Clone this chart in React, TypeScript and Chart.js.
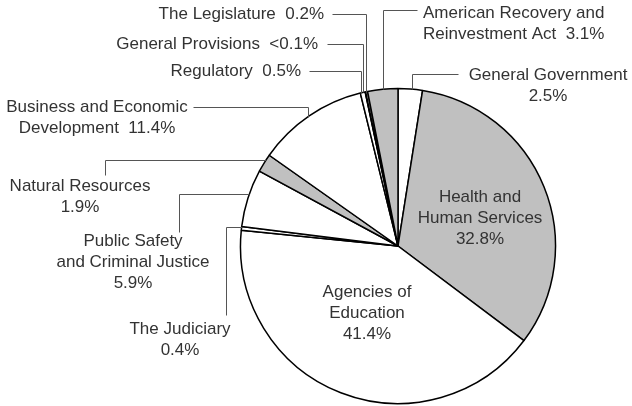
import React, { useEffect, useRef } from "react";
import { Chart, registerables } from "chart.js";

Chart.register(...registerables);

const categories = [
  "General Government",
  "Health and Human Services",
  "Agencies of Education",
  "The Judiciary",
  "Public Safety and Criminal Justice",
  "Natural Resources",
  "Business and Economic Development",
  "Regulatory",
  "General Provisions",
  "The Legislature",
  "American Recovery and Reinvestment Act",
];
const shares = [2.5, 32.8, 41.4, 0.4, 5.9, 1.9, 11.4, 0.5, 0.05, 0.2, 3.1];
const valueLabels = ["2.5%", "32.8%", "41.4%", "0.4%", "5.9%", "1.9%", "11.4%", "0.5%", "<0.1%", "0.2%", "3.1%"];
const labelLines: string[][] = [
  ["General Government", valueLabels[0]],
  ["Health and", "Human Services", valueLabels[1]],
  ["Agencies of", "Education", valueLabels[2]],
  ["The Judiciary", valueLabels[3]],
  ["Public Safety", "and Criminal Justice", valueLabels[4]],
  ["Natural Resources", valueLabels[5]],
  ["Business and Economic", "Development  " + valueLabels[6]],
  ["Regulatory  " + valueLabels[7]],
  ["General Provisions  " + valueLabels[8]],
  ["The Legislature  " + valueLabels[9]],
  ["American Recovery and", "Reinvestment Act  " + valueLabels[10]],
];
const GRAY = "#c0c0c0";
const WHITE = "#ffffff";
const fills = [WHITE, GRAY, WHITE, WHITE, WHITE, GRAY, WHITE, WHITE, GRAY, GRAY, GRAY];

type LabelSpec = {
  x: number;
  y: number;
  align: CanvasTextAlign;
  leader?: number[][];
  end?: "v" | "h";
};
const labelSpecs: LabelSpec[] = [
  { x: 548, y: 75, align: "center", leader: [[458, 74], [412, 74]], end: "v" },
  { x: 480, y: 197, align: "center" },
  { x: 367, y: 292, align: "center" },
  { x: 180, y: 329, align: "center", leader: [[226, 315], [226, 227]], end: "h" },
  { x: 133, y: 241, align: "center", leader: [[179, 232], [179, 194]], end: "h" },
  { x: 80, y: 186, align: "center", leader: [[105, 175], [105, 160]], end: "h" },
  { x: 97, y: 107, align: "center", leader: [[193, 107], [308, 107]], end: "v" },
  { x: 301, y: 71, align: "right", leader: [[309, 71], [361, 71]], end: "v" },
  { x: 318, y: 44, align: "right", leader: [[327, 44], [363, 44]], end: "v" },
  { x: 324, y: 14, align: "right", leader: [[332, 14], [366, 14]], end: "v" },
  { x: 423, y: 13, align: "left", leader: [[417, 10], [383, 10]], end: "v" },
];

const LINE_H = 21;
const FONT = '17px "Liberation Sans", Arial, sans-serif';

const labelPlugin = {
  id: "pieLabels",
  afterDatasetsDraw(chart: any) {
    const ctx: CanvasRenderingContext2D = chart.ctx;
    const arc = chart.getDatasetMeta(0).data[0] as any;
    if (!arc) return;
    const cx = arc.x;
    const cy = arc.y;
    const r = arc.outerRadius;
    ctx.save();
    // leader lines
    ctx.strokeStyle = "#555";
    ctx.lineWidth = 1;
    labelSpecs.forEach((s) => {
      if (!s.leader) return;
      const pts = s.leader.map((p) => [p[0], p[1]]);
      const last = pts[pts.length - 1];
      let endPt: number[];
      if (s.end === "v") {
        const dx = last[0] - cx;
        endPt = [last[0], cy - Math.sqrt(Math.max(r * r - dx * dx, 0))];
      } else {
        const dy = last[1] - cy;
        endPt = [cx - Math.sqrt(Math.max(r * r - dy * dy, 0)), last[1]];
      }
      pts.push(endPt);
      ctx.beginPath();
      pts.forEach((p, i) => {
        const px = Math.round(p[0]) + 0.5;
        const py = Math.round(p[1]) + 0.5;
        if (i === 0) ctx.moveTo(px, py);
        else ctx.lineTo(px, py);
      });
      ctx.stroke();
    });
    // texts
    ctx.font = FONT;
    ctx.fillStyle = "#333";
    ctx.textBaseline = "middle";
    labelSpecs.forEach((s, i) => {
      ctx.textAlign = s.align;
      labelLines[i].forEach((line, j) => {
        ctx.fillText(line, s.x, s.y + j * LINE_H);
      });
    });
    ctx.restore();
  },
};

export default function App() {
  const ref = useRef<HTMLCanvasElement | null>(null);
  useEffect(() => {
    if (!ref.current) return;
    const chart = new Chart(ref.current, {
      type: "pie",
      data: {
        labels: categories,
        datasets: [
          {
            data: shares,
            backgroundColor: fills,
            borderColor: "#000",
            borderWidth: 1.5,
            borderAlign: "center",
          },
        ],
      },
      options: {
        responsive: false,
        animation: false,
        layout: { padding: { top: 87.75, bottom: 1.75, left: 239.75, right: 75.75 } },
        plugins: {
          legend: { display: false },
          tooltip: { enabled: false },
        },
      },
      plugins: [labelPlugin],
    });
    return () => chart.destroy();
  }, []);
  return (
    <div style={{ position: "fixed", left: 0, top: 0, width: 632, height: 406, background: "#fff" }}>
      <canvas ref={ref} width={632} height={406} style={{ width: 632, height: 406 }} />
    </div>
  );
}
